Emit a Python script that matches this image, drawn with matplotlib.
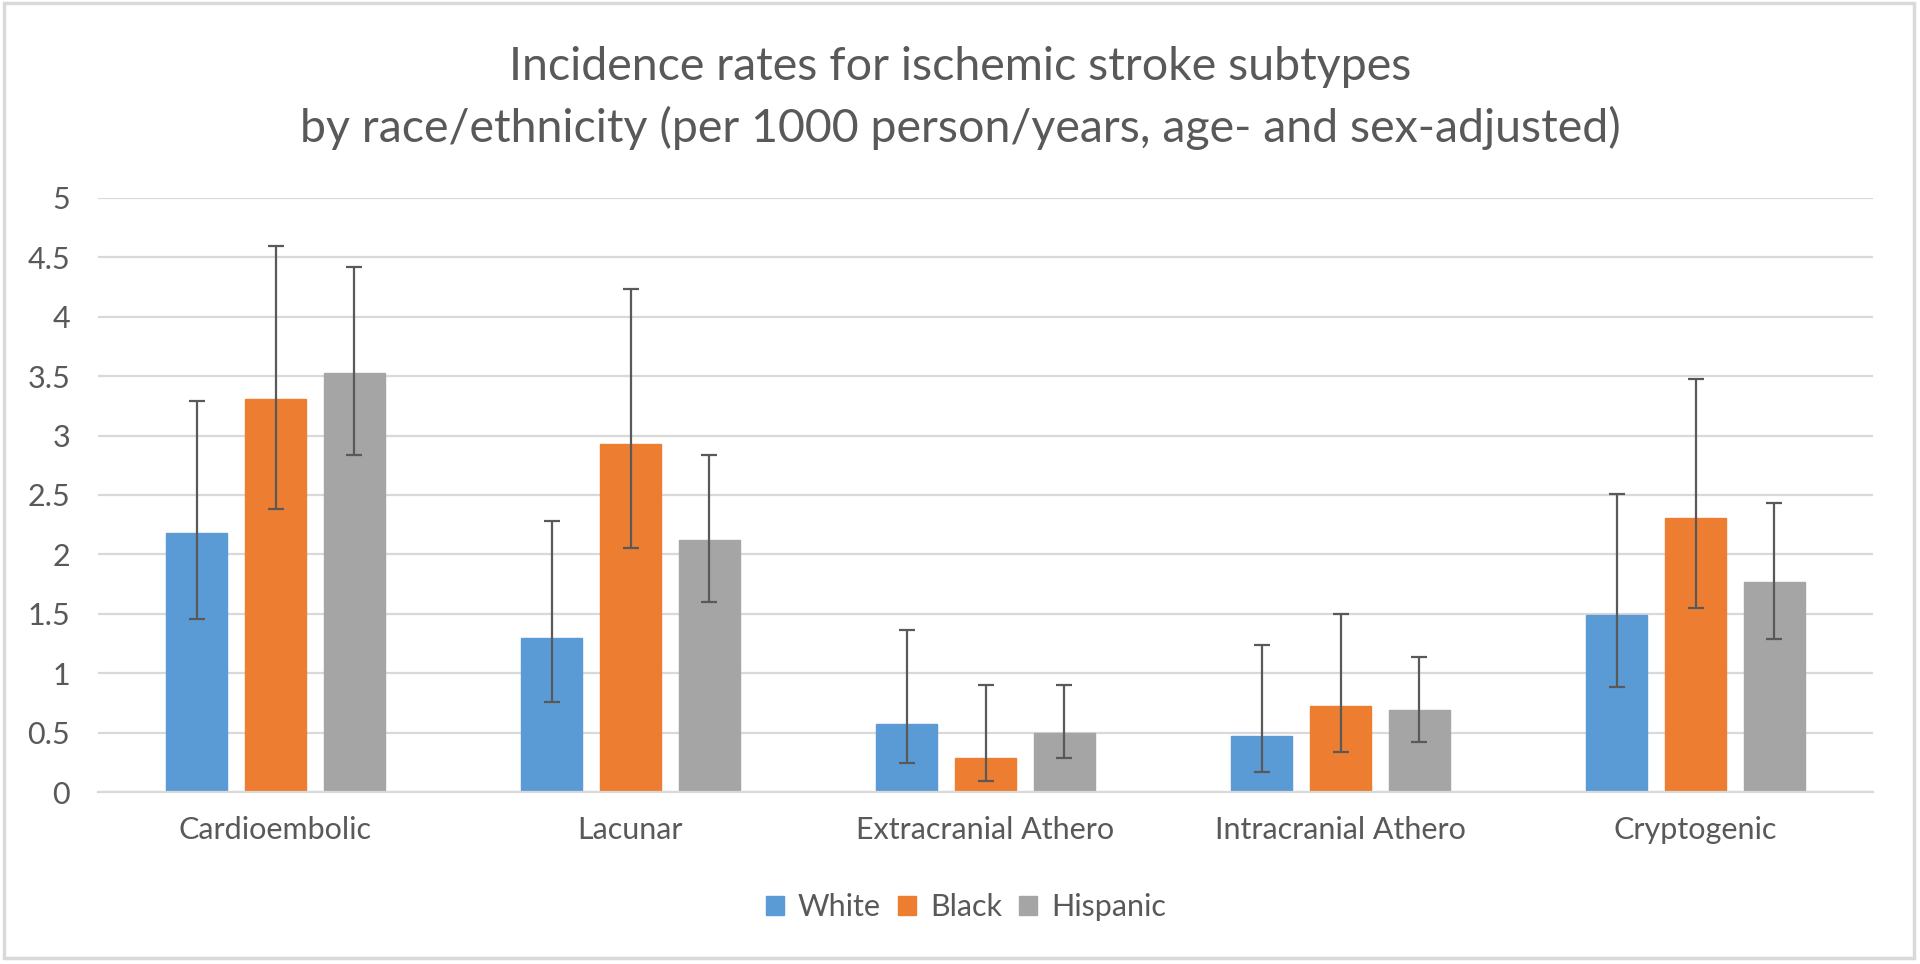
import numpy as np
import matplotlib
matplotlib.use("Agg")
import matplotlib.pyplot as plt
from matplotlib.patches import Rectangle

# --- data ---
categories = ["Cardioembolic", "Lacunar", "Extracranial Athero",
              "Intracranial Athero", "Cryptogenic"]
groups = ["White", "Black", "Hispanic"]

white = [2.18, 1.30, 0.57, 0.47, 1.49]
white_hi = [3.29, 2.28, 1.36, 1.24, 2.51]
white_lo = [1.46, 0.76, 0.24, 0.17, 0.88]

black = [3.31, 2.93, 0.29, 0.72, 2.31]
black_hi = [4.60, 4.23, 0.90, 1.50, 3.48]
black_lo = [2.38, 2.05, 0.09, 0.34, 1.55]

hispanic = [3.53, 2.12, 0.50, 0.69, 1.77]
hispanic_hi = [4.42, 2.84, 0.90, 1.14, 2.43]
hispanic_lo = [2.84, 1.60, 0.29, 0.42, 1.29]

colors = ["#5B9BD5", "#ED7D31", "#A5A5A5"]
text_color = "#595959"
grid_color = "#D9D9D9"

plt.rcParams["font.family"] = ["Lato", "DejaVu Sans"]

fig = plt.figure(figsize=(19.2, 9.64), dpi=100)
ax = fig.add_axes([98 / 1920, 1 - 792 / 964, (1873 - 98) / 1920, (792 - 198) / 964])

x = np.arange(len(categories))
width = 0.172
step = 0.222
series = [(white, white_lo, white_hi), (black, black_lo, black_hi),
          (hispanic, hispanic_lo, hispanic_hi)]

for i, (vals, lo, hi) in enumerate(series):
    vals = np.array(vals)
    err = [vals - np.array(lo), np.array(hi) - vals]
    pos = x + (i - 1) * step
    ax.bar(pos, vals, width, color=colors[i], label=groups[i], zorder=2,
           edgecolor=colors[i], linewidth=1)
    ax.errorbar(pos, vals, yerr=err, fmt="none", ecolor=text_color,
                elinewidth=1.6, capsize=6, capthick=1.6, zorder=3)

ax.set_xlim(-0.5, len(categories) - 0.5)
ax.set_ylim(0, 5)
ax.set_yticks(np.arange(0, 5.01, 0.5))
ax.set_yticklabels([f"{v:g}" for v in np.arange(0, 5.01, 0.5)])
ax.set_xticks(x)
ax.set_xticklabels(categories)
ax.tick_params(axis="both", length=0, colors=text_color, labelsize=22)
ax.tick_params(axis="x", pad=17)
ax.tick_params(axis="y", pad=20)
ax.yaxis.grid(True, color=grid_color, linewidth=1.6, zorder=0)
ax.set_axisbelow(True)
for side in ["top", "right", "left"]:
    ax.spines[side].set_visible(False)
ax.spines["bottom"].set_color(grid_color)
ax.spines["bottom"].set_linewidth(1.6)

fig.text(0.5, 1 - 67 / 964, "Incidence rates for ischemic stroke subtypes",
         ha="center", va="center", fontsize=33.5, color=text_color)
fig.text(0.5, 1 - 128 / 964,
         "by race/ethnicity (per 1000 person/years, age- and sex-adjusted)",
         ha="center", va="center", fontsize=33.5, color=text_color)

leg = fig.legend(loc="center", bbox_to_anchor=(0.503, 1 - 907 / 964), ncol=3,
                 frameon=False, fontsize=22, handlelength=0.6, handleheight=0.6,
                 handletextpad=0.45, columnspacing=0.55)
for t in leg.get_texts():
    t.set_color(text_color)

fig.patches.append(Rectangle((4 / 1920, 6 / 964), 1910 / 1920, 955 / 964,
                             transform=fig.transFigure, fill=False,
                             edgecolor=grid_color, linewidth=2.5))

fig.savefig("out.png", dpi=100, facecolor="white")
